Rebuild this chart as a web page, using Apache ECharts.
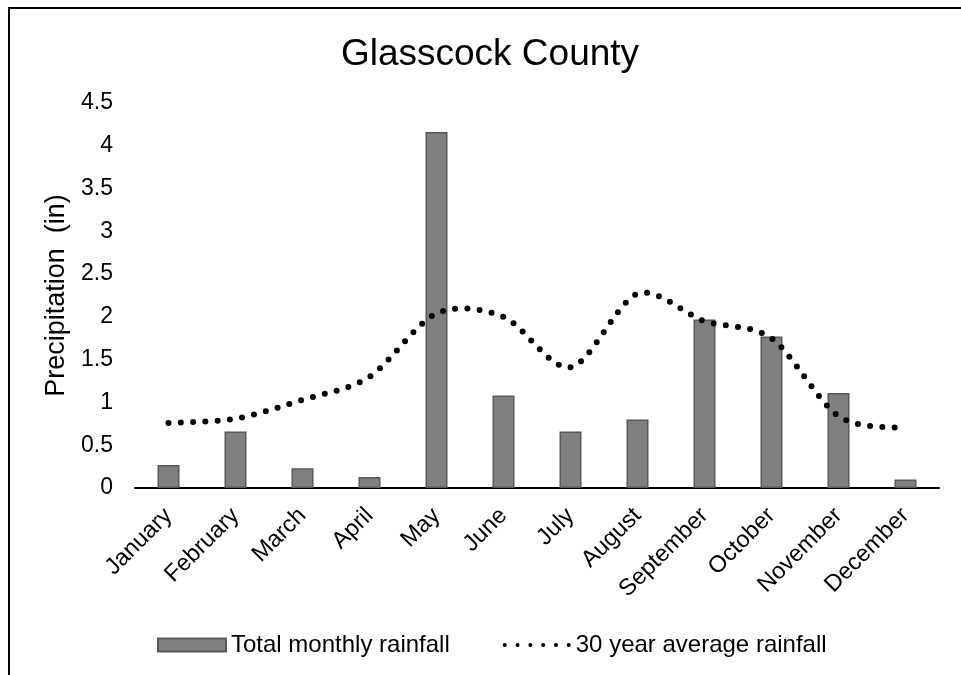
<!DOCTYPE html>
<html>
<head>
<meta charset="utf-8">
<script src="https://cdn.jsdelivr.net/npm/echarts@6/dist/echarts.min.js"></script>
<style>
html,body{margin:0;padding:0;background:#fff;}
#chart{width:961px;height:675px;}
</style>
</head>
<body>
<div id="chart"></div>
<script>
var months = ['January','February','March','April','May','June','July','August','September','October','November','December'];
var totalMonthly = [0.27,0.66,0.23,0.13,4.16,1.08,0.66,0.80,1.97,1.77,1.11,0.10];
var avg30 = [0.76,0.81,1.03,1.30,2.04,2.00,1.41,2.27,1.95,1.75,0.84,0.70];
var yTicks = {min:0, max:4.5, interval:0.5};

var FONT = '"Liberation Sans", Arial, sans-serif';
// legend icon: six small dots
var dotIcon = 'path://';
(function(){
  var r = 2, step = 12.7;
  for (var i = 0; i < 6; i++) {
    var cx = r + i * step;
    dotIcon += 'M' + (cx - r) + ' ' + r + 'a' + r + ' ' + r + ' 0 1 0 ' + (2*r) + ' 0' + 'a' + r + ' ' + r + ' 0 1 0 ' + (-2*r) + ' 0z';
  }
})();

// Excel-like smoothed line (Bezier through the points), positions via the chart's own axes
function renderSmooth(params, api) {
  if (params.dataIndex !== 0) return null;
  var n = avg30.length;
  var P = [];
  for (var i = 0; i < n; i++) P.push(api.coord([i, avg30[i]]));
  var k = 0.15, steps = 24, pts = [P[0].slice()];
  for (var s = 0; s < n - 1; s++) {
    var p0 = P[Math.max(s - 1, 0)], p1 = P[s], p2 = P[s + 1], p3 = P[Math.min(s + 2, n - 1)];
    var c1 = [p1[0] + (p2[0] - p0[0]) * k, p1[1] + (p2[1] - p0[1]) * k];
    var c2 = [p2[0] - (p3[0] - p1[0]) * k, p2[1] - (p3[1] - p1[1]) * k];
    for (var j = 1; j <= steps; j++) {
      var t = j / steps, u = 1 - t;
      pts.push([
        u*u*u*p1[0] + 3*u*u*t*c1[0] + 3*u*t*t*c2[0] + t*t*t*p2[0],
        u*u*u*p1[1] + 3*u*u*t*c1[1] + 3*u*t*t*c2[1] + t*t*t*p2[1]
      ]);
    }
  }
  return {
    type:'polyline',
    shape:{points:pts},
    style:{fill:null, stroke:'#000', lineWidth:6, lineDash:[0,12.3], lineCap:'round', lineJoin:'round'}
  };
}

var chart = echarts.init(document.getElementById('chart'), null, {renderer:'canvas'});
chart.setOption({
  animation:false,
  backgroundColor:'#fff',
  textStyle:{fontFamily:FONT},
  title:{
    text:'Glasscock County',
    left:485, top:31, textAlign:'center',
    textStyle:{fontFamily:FONT,fontSize:37,fontWeight:'normal',color:'#000'}
  },
  graphic:[{
    type:'rect', silent:true,
    shape:{x:9,y:8,width:2000,height:2000},
    style:{fill:'none',stroke:'#000',lineWidth:2}
  }],
  legend:{
    left:152, top:628,
    itemWidth:68, itemHeight:13, itemGap:53,
    textStyle:{fontFamily:FONT,fontSize:24,color:'#000'},
    data:[
      {name:'Total monthly rainfall', icon:'rect'},
      {name:'30 year average rainfall', icon:dotIcon}
    ]
  },
  grid:{left:135,right:22,top:103,bottom:187,containLabel:false},
  xAxis:{
    type:'category', data:months,
    axisLine:{lineStyle:{color:'#000',width:2}},
    axisTick:{show:false},
    axisLabel:{rotate:45,margin:24,fontFamily:FONT,fontSize:23.5,color:'#000',interval:0}
  },
  yAxis:{
    type:'value', min:yTicks.min, max:yTicks.max, interval:yTicks.interval,
    name:'Precipitation  (in)', nameLocation:'middle', nameGap:64,
    nameTextStyle:{fontFamily:FONT,fontSize:27,color:'#000'},
    axisLine:{show:false}, axisTick:{show:false}, splitLine:{show:false},
    axisLabel:{margin:22,fontFamily:FONT,fontSize:23,color:'#000'}
  },
  series:[
    {
      name:'Total monthly rainfall', type:'bar', data:totalMonthly, barWidth:22,
      itemStyle:{color:'#808080',borderColor:'#595959',borderWidth:1.5}
    },
    {
      name:'30 year average rainfall', type:'custom',
      data:avg30.map(function(v,i){return [i,v];}),
      encode:{x:0,y:1},
      renderItem:renderSmooth,
      itemStyle:{color:'#000'},
      z:3
    }
  ]
});
</script>
</body>
</html>
